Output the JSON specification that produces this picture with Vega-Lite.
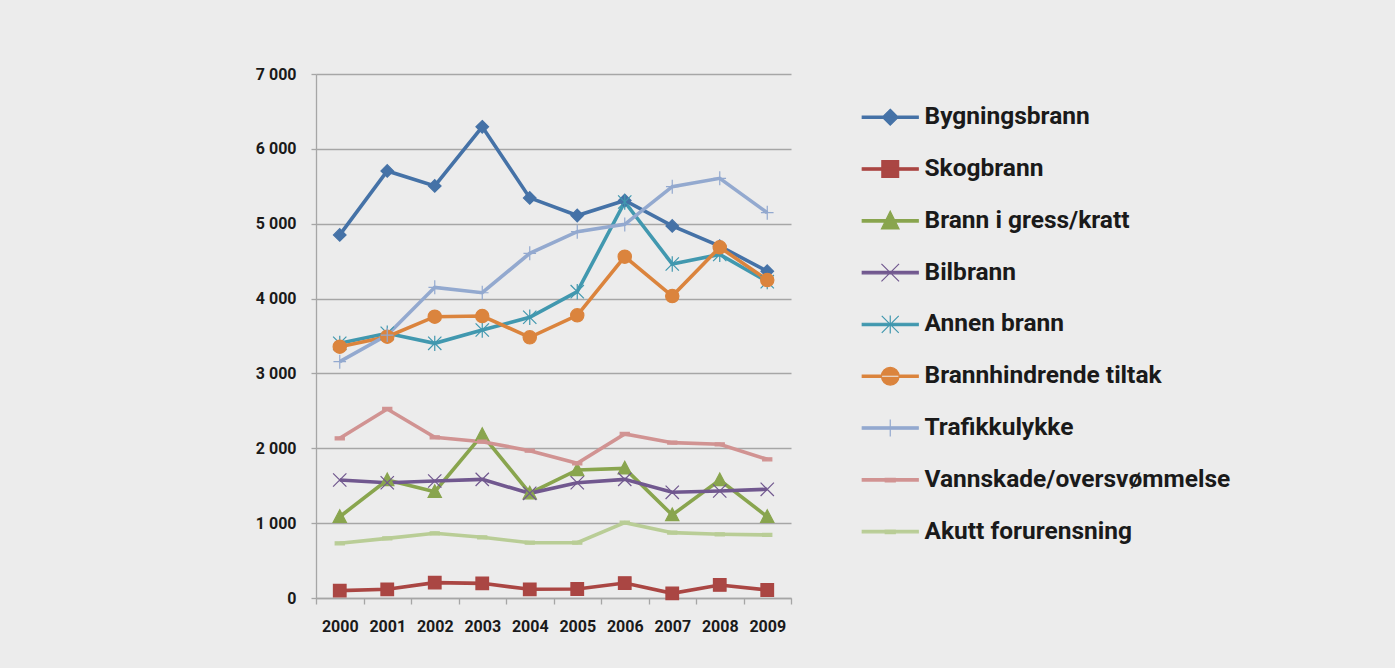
{
  "$schema": "https://vega.github.io/schema/vega-lite/v6.json",
  "width": 475,
  "height": 524,
  "autosize": {"type": "none"},
  "padding": {"left": 316, "top": 74, "right": 604, "bottom": 70},
  "background": "#ececec",
  "config": {
    "view": {"stroke": null},
    "axis": {
      "labelFont": "Roboto", "labelFontSize": 16, "labelFontWeight": "bold", "labelColor": "#1a1a1a",
      "domainColor": "#a6a6a6", "tickColor": "#a6a6a6", "gridColor": "#a6a6a6", "domainWidth": 1.3, "tickWidth": 1.3, "gridWidth": 1.3
    },
    "legend": {
      "orient": "none", "legendX": 562, "legendY": 31, "padding": 0,
      "symbolSize": 400, "symbolStrokeWidth": 1.2, "labelOffset": 22, "rowPadding": 26.8, "labelLimit": 500,
      "labelFont": "Roboto", "labelFontSize": 24.5, "labelFontWeight": "bold", "labelColor": "#1a1a1a"
    }
  },
  "resolve": {"scale": {"color": "independent", "shape": "independent", "stroke": "independent"}},
  "data": {"values": [
    {"year":"2000","series":"Bygningsbrann","value":4850},{"year":"2001","series":"Bygningsbrann","value":5705},{"year":"2002","series":"Bygningsbrann","value":5505},{"year":"2003","series":"Bygningsbrann","value":6295},{"year":"2004","series":"Bygningsbrann","value":5345},{"year":"2005","series":"Bygningsbrann","value":5110},{"year":"2006","series":"Bygningsbrann","value":5310},{"year":"2007","series":"Bygningsbrann","value":4970},{"year":"2008","series":"Bygningsbrann","value":4700},{"year":"2009","series":"Bygningsbrann","value":4365},
    {"year":"2000","series":"Skogbrann","value":98},{"year":"2001","series":"Skogbrann","value":116},{"year":"2002","series":"Skogbrann","value":205},{"year":"2003","series":"Skogbrann","value":196},{"year":"2004","series":"Skogbrann","value":116},{"year":"2005","series":"Skogbrann","value":120},{"year":"2006","series":"Skogbrann","value":200},{"year":"2007","series":"Skogbrann","value":62},{"year":"2008","series":"Skogbrann","value":174},{"year":"2009","series":"Skogbrann","value":107},
    {"year":"2000","series":"Brann i gress/kratt","value":1086},{"year":"2001","series":"Brann i gress/kratt","value":1576},{"year":"2002","series":"Brann i gress/kratt","value":1420},{"year":"2003","series":"Brann i gress/kratt","value":2180},{"year":"2004","series":"Brann i gress/kratt","value":1400},{"year":"2005","series":"Brann i gress/kratt","value":1710},{"year":"2006","series":"Brann i gress/kratt","value":1732},{"year":"2007","series":"Brann i gress/kratt","value":1109},{"year":"2008","series":"Brann i gress/kratt","value":1576},{"year":"2009","series":"Brann i gress/kratt","value":1086},
    {"year":"2000","series":"Bilbrann","value":1576},{"year":"2001","series":"Bilbrann","value":1540},{"year":"2002","series":"Bilbrann","value":1563},{"year":"2003","series":"Bilbrann","value":1585},{"year":"2004","series":"Bilbrann","value":1398},{"year":"2005","series":"Bilbrann","value":1540},{"year":"2006","series":"Bilbrann","value":1585},{"year":"2007","series":"Bilbrann","value":1412},{"year":"2008","series":"Bilbrann","value":1429},{"year":"2009","series":"Bilbrann","value":1452},
    {"year":"2000","series":"Annen brann","value":3402},{"year":"2001","series":"Annen brann","value":3536},{"year":"2002","series":"Annen brann","value":3402},{"year":"2003","series":"Annen brann","value":3580},{"year":"2004","series":"Annen brann","value":3750},{"year":"2005","series":"Annen brann","value":4092},{"year":"2006","series":"Annen brann","value":5290},{"year":"2007","series":"Annen brann","value":4462},{"year":"2008","series":"Annen brann","value":4590},{"year":"2009","series":"Annen brann","value":4226},
    {"year":"2000","series":"Brannhindrende tiltak","value":3357},{"year":"2001","series":"Brannhindrende tiltak","value":3491},{"year":"2002","series":"Brannhindrende tiltak","value":3758},{"year":"2003","series":"Brannhindrende tiltak","value":3767},{"year":"2004","series":"Brannhindrende tiltak","value":3482},{"year":"2005","series":"Brannhindrende tiltak","value":3776},{"year":"2006","series":"Brannhindrende tiltak","value":4560},{"year":"2007","series":"Brannhindrende tiltak","value":4034},{"year":"2008","series":"Brannhindrende tiltak","value":4685},{"year":"2009","series":"Brannhindrende tiltak","value":4248},
    {"year":"2000","series":"Trafikkulykke","value":3157},{"year":"2001","series":"Trafikkulykke","value":3513},{"year":"2002","series":"Trafikkulykke","value":4150},{"year":"2003","series":"Trafikkulykke","value":4078},{"year":"2004","series":"Trafikkulykke","value":4605},{"year":"2005","series":"Trafikkulykke","value":4893},{"year":"2006","series":"Trafikkulykke","value":4991},{"year":"2007","series":"Trafikkulykke","value":5495},{"year":"2008","series":"Trafikkulykke","value":5606},{"year":"2009","series":"Trafikkulykke","value":5147},
    {"year":"2000","series":"Vannskade/oversvømmelse","value":2133},{"year":"2001","series":"Vannskade/oversvømmelse","value":2525},{"year":"2002","series":"Vannskade/oversvømmelse","value":2147},{"year":"2003","series":"Vannskade/oversvømmelse","value":2088},{"year":"2004","series":"Vannskade/oversvømmelse","value":1968},{"year":"2005","series":"Vannskade/oversvømmelse","value":1799},{"year":"2006","series":"Vannskade/oversvømmelse","value":2191},{"year":"2007","series":"Vannskade/oversvømmelse","value":2075},{"year":"2008","series":"Vannskade/oversvømmelse","value":2053},{"year":"2009","series":"Vannskade/oversvømmelse","value":1853},
    {"year":"2000","series":"Akutt forurensning","value":731},{"year":"2001","series":"Akutt forurensning","value":797},{"year":"2002","series":"Akutt forurensning","value":864},{"year":"2003","series":"Akutt forurensning","value":811},{"year":"2004","series":"Akutt forurensning","value":739},{"year":"2005","series":"Akutt forurensning","value":739},{"year":"2006","series":"Akutt forurensning","value":1006},{"year":"2007","series":"Akutt forurensning","value":873},{"year":"2008","series":"Akutt forurensning","value":851},{"year":"2009","series":"Akutt forurensning","value":842}
  ]},
  "encoding": {
    "x": {
      "field": "year", "type": "ordinal", "bandPosition": 0.5,
      "scale": {"type": "band", "paddingInner": 0, "paddingOuter": 0},
      "axis": {"title": null, "labelAngle": 0, "tickBand": "extent", "tickSize": 6, "labelPadding": 14, "grid": false}
    },
    "y": {
      "field": "value", "type": "quantitative",
      "scale": {"domain": [0, 7000], "nice": false},
      "axis": {"title": null, "values": [0,1000,2000,3000,4000,5000,6000,7000], "grid": true, "tickSize": 5, "labelPadding": 15,
               "labelExpr": "replace(format(datum.value, ',d'), ',', ' ')"}
    }
  },
  "layer": [
    {
      "mark": {"type": "line", "strokeWidth": 3.6},
      "encoding": {
        "color": {
          "field": "series", "type": "nominal", "legend": null,
          "scale": {
            "domain": ["Bygningsbrann","Skogbrann","Brann i gress/kratt","Bilbrann","Annen brann","Brannhindrende tiltak","Trafikkulykke","Vannskade/oversvømmelse","Akutt forurensning"],
            "range": ["#4572A7","#AA4643","#89A54E","#71588F","#4198AF","#DB843D","#93A9CF","#D19392","#B9CD96"]
          }
        }
      }
    },
    {
      "mark": {"type": "point", "filled": true, "opacity": 1, "size": 196, "strokeWidth": 1.2},
      "encoding": {
        "color": {
          "field": "series", "type": "nominal", "legend": null,
          "scale": {
            "domain": ["Bygningsbrann","Skogbrann","Brann i gress/kratt","Bilbrann","Annen brann","Brannhindrende tiltak","Trafikkulykke","Vannskade/oversvømmelse","Akutt forurensning"],
            "range": ["#4572A7","#AA4643","#89A54E","#71588F","#4198AF","#DB843D","#93A9CF","#D19392","#B9CD96"]
          }
        },
        "stroke": {
          "field": "series", "type": "nominal", "legend": null,
          "scale": {
            "domain": ["Bygningsbrann","Skogbrann","Brann i gress/kratt","Bilbrann","Annen brann","Brannhindrende tiltak","Trafikkulykke","Vannskade/oversvømmelse","Akutt forurensning"],
            "range": ["#4572A7","#AA4643","#89A54E","#71588F","#4198AF","#DB843D","#93A9CF","#D19392","#B9CD96"]
          }
        },
        "shape": {
          "field": "series", "type": "nominal", "legend": null,
          "scale": {
            "domain": ["Bygningsbrann","Skogbrann","Brann i gress/kratt","Bilbrann","Annen brann","Brannhindrende tiltak","Trafikkulykke","Vannskade/oversvømmelse","Akutt forurensning"],
            "range": [
              "M0,-0.9L0.9,0L0,0.9L-0.9,0Z",
              "M-0.9,-0.9L0.9,-0.9L0.9,0.9L-0.9,0.9Z",
              "M0,-1L0.95,0.8L-0.95,0.8Z",
              "M-0.95,-0.95L0.95,0.95M-0.95,0.95L0.95,-0.95",
              "M-0.95,-0.95L0.95,0.95M-0.95,0.95L0.95,-0.95M0,-1.1L0,1.1",
              "M-0.95,0A0.95,0.95 0 1,0 0.95,0A0.95,0.95 0 1,0 -0.95,0Z",
              "M0,-1L0,1M-0.9,0L0.9,0",
              "M-0.65,-0.22L0.65,-0.22L0.65,0.22L-0.65,0.22Z",
              "M-0.65,-0.22L0.65,-0.22L0.65,0.22L-0.65,0.22Z"
            ]
          }
        }
      }
    },
    {
      "transform": [{"filter": "datum.value < 0"}],
      "mark": {"type": "point", "filled": true, "opacity": 1, "size": 400, "strokeWidth": 1.2},
      "encoding": {
        "color": {
          "field": "series", "type": "nominal", "legend": {"title": null},
          "scale": {
            "domain": ["Bygningsbrann","Skogbrann","Brann i gress/kratt","Bilbrann","Annen brann","Brannhindrende tiltak","Trafikkulykke","Vannskade/oversvømmelse","Akutt forurensning"],
            "range": ["#4572A7","#AA4643","#89A54E","#71588F","#4198AF","#DB843D","#93A9CF","#D19392","#B9CD96"]
          }
        },
        "stroke": {
          "field": "series", "type": "nominal", "legend": {"title": null},
          "scale": {
            "domain": ["Bygningsbrann","Skogbrann","Brann i gress/kratt","Bilbrann","Annen brann","Brannhindrende tiltak","Trafikkulykke","Vannskade/oversvømmelse","Akutt forurensning"],
            "range": ["#4572A7","#AA4643","#89A54E","#71588F","#4198AF","#DB843D","#93A9CF","#D19392","#B9CD96"]
          }
        },
        "shape": {
          "field": "series", "type": "nominal", "legend": {"title": null},
          "scale": {
            "domain": ["Bygningsbrann","Skogbrann","Brann i gress/kratt","Bilbrann","Annen brann","Brannhindrende tiltak","Trafikkulykke","Vannskade/oversvømmelse","Akutt forurensning"],
            "range": [
              "M-2.8,-0.12L2.8,-0.12L2.8,0.12L-2.8,0.12ZM0,-0.8L0.8,0L0,0.8L-0.8,0Z",
              "M-2.8,-0.12L2.8,-0.12L2.8,0.12L-2.8,0.12ZM-0.84,-0.84L0.84,-0.84L0.84,0.84L-0.84,0.84Z",
              "M-2.8,-0.12L2.8,-0.12L2.8,0.12L-2.8,0.12ZM0,-0.97L0.88,0.81L-0.88,0.81Z",
              "M-2.8,-0.12L2.8,-0.12L2.8,0.12L-2.8,0.12ZM-0.88,-0.88L0.88,0.88M-0.88,0.88L0.88,-0.88",
              "M-2.8,-0.12L2.8,-0.12L2.8,0.12L-2.8,0.12ZM-0.85,-0.85L0.85,0.85M-0.85,0.85L0.85,-0.85M0,-0.9L0,0.9",
              "M-2.8,-0.12L2.8,-0.12L2.8,0.12L-2.8,0.12ZM-0.88,0A0.88,0.88 0 1,0 0.88,0A0.88,0.88 0 1,0 -0.88,0Z",
              "M-2.8,-0.12L2.8,-0.12L2.8,0.12L-2.8,0.12ZM0,-0.85L0,0.85",
              "M-2.8,-0.12L2.8,-0.12L2.8,0.12L-2.8,0.12ZM-0.5,-0.15L0.5,-0.15L0.5,0.2L-0.5,0.2Z",
              "M-2.8,-0.12L2.8,-0.12L2.8,0.12L-2.8,0.12ZM-0.5,-0.15L0.5,-0.15L0.5,0.2L-0.5,0.2Z"
            ]
          }
        }
      }
    }
  ]
}
